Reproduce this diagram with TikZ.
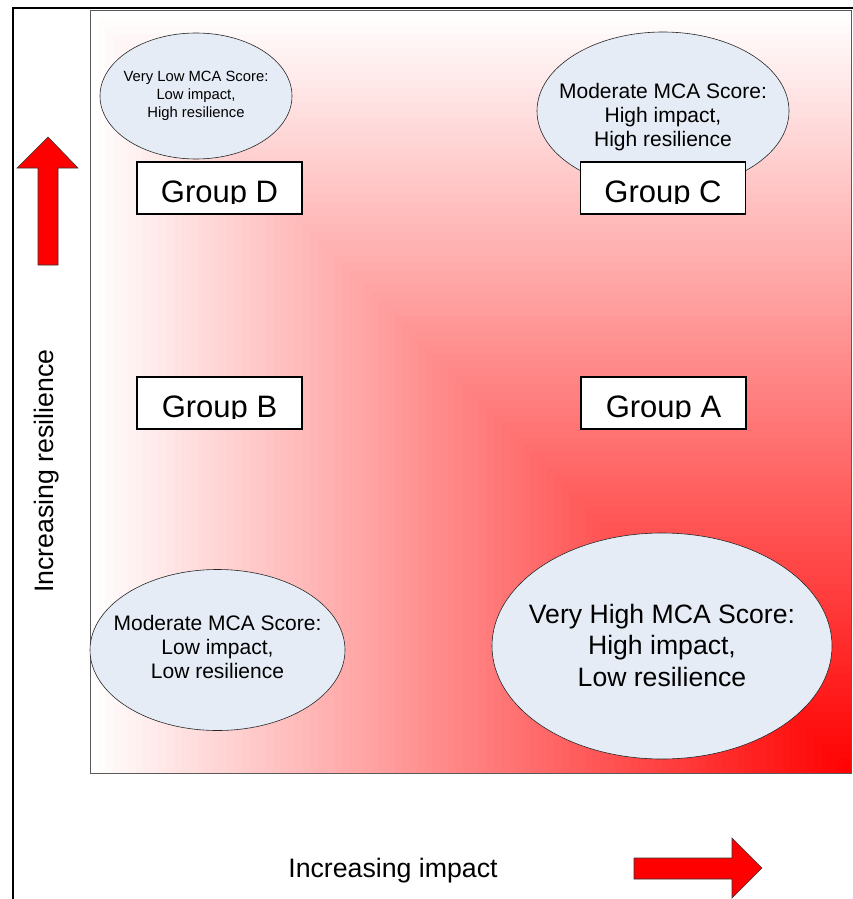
\documentclass[tikz,border=0pt]{standalone}
\usepackage{fontspec}
\setmainfont{Liberation Sans}

\definecolor{bubblefill}{RGB}{230,236,246}
\definecolor{framegray}{RGB}{90,90,90}

\tikzset{
  scorebubble/.style={draw=black!85, fill=bubblefill, line width=0.6pt},
  bubbletext/.style={align=center, inner sep=0pt},
  groupbox/.style={draw, line width=1.5pt, fill=white, minimum width=165pt, minimum height=52pt, inner sep=0pt,
    path picture={
      \clip (path picture bounding box.north west) rectangle ([yshift=11pt]path picture bounding box.south east);
      \node[anchor=base, inner sep=0pt, font=\fontsize{31}{37}\selectfont] at ([yshift=12pt]path picture bounding box.south) {#1};
    }},
  blockarrow/.style={fill=red, draw=black!80, line width=0.6pt},
  axislabel/.style={font=\fontsize{26.7}{32}\selectfont, inner sep=0pt}
}

\begin{document}
\begin{tikzpicture}[x=1pt, y=-1pt]
    \useasboundingbox (0,0) rectangle (853,899);

    % Corner gradient: white at the left and top, red in the bottom right corner
    \foreach \i in {0,...,99}
        \fill[red!\i] ({90+7.61*\i},773) rectangle (851,{11+7.62*\i});
    \draw[framegray, line width=1pt] (90,11) rectangle (851,773);

    % Outer frame (only left and top are visible)
    \draw[line width=2pt] (13,899) -- (13,8) -- (853,8);

    % Score bubbles, then their texts
    \draw[scorebubble] (196,96) ellipse [x radius=96pt, y radius=63pt];
    \draw[scorebubble] (663,111) ellipse [x radius=126pt, y radius=79pt];
    \draw[scorebubble] (217.5,650) ellipse [x radius=127.5pt, y radius=80.5pt];
    \draw[scorebubble] (662,646) ellipse [x radius=170pt, y radius=113pt];
    \node[bubbletext, font=\fontsize{14.8}{17.7}\selectfont] (verylow) at (196,96)
        {Very Low MCA Score:\\Low impact,\\High resilience};
    \node[bubbletext, font=\fontsize{21}{24}\selectfont] (modhigh) at (663,117)
        {Moderate MCA Score:\\High impact,\\High resilience};
    \node[bubbletext, font=\fontsize{21}{24}\selectfont] (modlow) at (217.5,647)
        {Moderate MCA Score:\\Low impact,\\Low resilience};
    \node[bubbletext, font=\fontsize{26.6}{31.5}\selectfont] (veryhigh) at (662,645)
        {Very High MCA Score:\\High impact,\\Low resilience};

    % Group boxes
    \node[groupbox=Group D] (grpD) at (219.5,188) {};
    \node[groupbox=Group C] (grpC) at (663,188) {};
    \node[groupbox=Group B] (grpB) at (219.5,403) {};
    \node[groupbox=Group A] (grpA) at (663.5,403) {};

    % Block arrows
    \filldraw[blockarrow] (38,265) -- (38,168) -- (17,168) -- (48,137) -- (78,168) -- (58,168) -- (58,265) -- cycle;
    \filldraw[blockarrow] (634,858) -- (732,858) -- (732,838) -- (762,868) -- (732,898) -- (732,879) -- (634,879) -- cycle;

    % Axis labels
    \node[axislabel, rotate=90] (reslabel) at (47,471) {Increasing resilience};
    \node[axislabel, anchor=base] (implabel) at (393,877) {Increasing impact};
\end{tikzpicture}
\end{document}
